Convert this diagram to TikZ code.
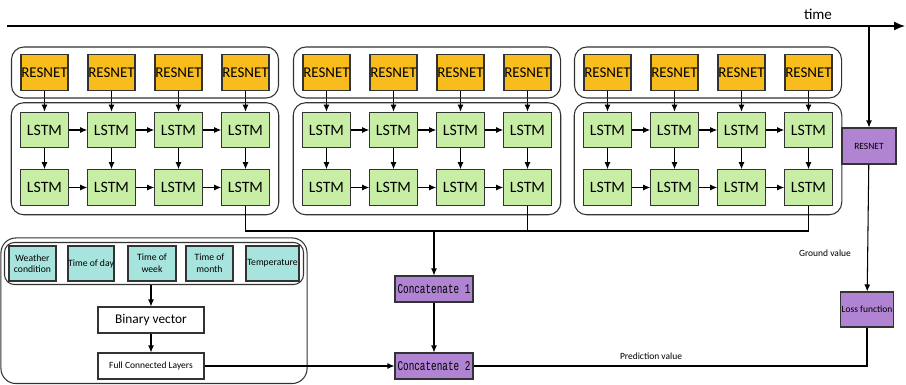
\documentclass[tikz,border=0pt]{standalone}
\usepackage{fontspec}
\setmainfont{Carlito}
\newfontfamily\catfont[FakeStretch=0.7]{Liberation Mono}
\usetikzlibrary{fit,arrows.meta}
\definecolor{resorange}{RGB}{248,188,28}
\definecolor{lstmgreen}{RGB}{200,238,165}
\definecolor{catpurple}{RGB}{176,132,210}
\definecolor{featcyan}{RGB}{168,228,222}
\tikzset{
  box/.style={draw=black!80, line width=0.6pt, inner sep=0pt, align=center},
  resbox/.style={box, fill=resorange, minimum width=0.94cm, minimum height=0.72cm, font=\fontsize{8.5}{9}\selectfont},
  lstmbox/.style={box, fill=lstmgreen, minimum width=0.95cm, minimum height=0.71cm, font=\fontsize{9}{9}\selectfont},
  featbox/.style={box, fill=featcyan, minimum height=0.7cm, font=\fontsize{5.5}{6.6}\selectfont},
  purplebox/.style={box, fill=catpurple, minimum height=0.7cm, font=\fontsize{5.4}{6}\selectfont},
  catbox/.style={box, fill=catpurple, minimum width=1.56cm, minimum height=0.52cm, font=\catfont\fontsize{7.6}{8}\selectfont},
  plainbox/.style={box, fill=white, minimum width=2.12cm, minimum height=0.52cm},
  group/.style={draw=black!80, line width=0.6pt, rounded corners=0.25cm, inner sep=0.18cm},
  flow/.style={-{Latex[length=1.4mm,width=1.2mm]}, line width=0.6pt},
  line/.style={line width=0.6pt},
  note/.style={font=\fontsize{5.4}{6}\selectfont}
}
\begin{document}
\begin{tikzpicture}[x=0.02cm, y=-0.02cm]
\useasboundingbox (0,0) rectangle (906,385);

% time axis
\coordinate (t0) at (7,26);
\coordinate (t1) at (905,26);
\draw[line width=0.8pt, -{Latex[length=2.2mm,width=1.8mm]}] (t0) -- (t1);
\node[font=\fontsize{8.6}{9}\selectfont] (time) at (818,14) {time};

% three resnet/lstm blocks
\foreach \g/\s in {1/0, 2/282, 3/563} {
  \foreach \i/\x in {1/44.5, 2/111.5, 3/178.5, 4/245.5} {
    \node[resbox] (rn\g\i) at ({\x+\s},72.5) {RESNET};
    \node[lstmbox] (la\g\i) at ({\x+\s},130) {LSTM};
    \node[lstmbox] (lb\g\i) at ({\x+\s},187.5) {LSTM};
    \draw[flow] (rn\g\i) -- (la\g\i);
    \draw[flow] (la\g\i) -- (lb\g\i);
  }
  \foreach \i/\j in {1/2, 2/3, 3/4} {
    \draw[flow] (la\g\i) -- (la\g\j);
    \draw[flow] (lb\g\i) -- (lb\g\j);
  }
  \node[group, inner ysep=0.14cm, fit=(rn\g1)(rn\g4)] (rg\g) {};
  \node[group, fit=(la\g1)(lb\g4)] (lg\g) {};
}

% outputs of the blocks
\coordinate (bus) at (0,231);
\node[catbox] (cat1) at (434,289) {Concatenate 1};
\node[catbox] (cat2) at (434,366) {Concatenate 2};
\draw[line] (lb14.south) |- (lb34.south |- bus) -- (lb34.south);
\draw[line] (lb24.south) -- (lb24.south |- bus);
\draw[flow] (cat1.north |- bus) -- (cat1.north);
\draw[flow] (cat1) -- (cat2);

% ground truth branch
\node[purplebox, minimum width=1.08cm, minimum height=0.72cm] (res) at (869,146) {RESNET};
\node[purplebox, minimum width=1.06cm] (loss) at (867,309.5) {Loss function};
\draw[flow] (res.north |- t0) -- (res.north);
\draw[flow] (res) -- (loss);
\node[note] (ground) at (825,253) {Ground value};
\draw[line] (cat2.east) -| (loss.south);
\node[note] (pred) at (651,356) {Prediction value};

% external features
\node[featbox, minimum width=0.94cm] (weather) at (32.5,263.5) {Weather\\condition};
\node[featbox, minimum width=0.92cm] (tday) at (91,263.5) {Time of day};
\node[featbox, minimum width=0.96cm] (tweek) at (152,263.5) {Time of\\week};
\node[featbox, minimum width=0.94cm] (tmonth) at (209.5,263.5) {Time of\\month};
\node[featbox, minimum width=1.06cm] (temp) at (272.5,263.5) {Temperature};
\node[group, rounded corners=0.2cm, inner xsep=0.08cm, inner ysep=0.06cm, fit=(weather)(temp)] (feat) {};
\node[plainbox, font=\fontsize{7.6}{8}\selectfont] (binary) at (151,320) {Binary vector};
\node[plainbox, font=\fontsize{5.4}{6}\selectfont] (fcl) at (151,366) {Full Connected Layers};
\node[group, rounded corners=0.3cm, inner xsep=0.06cm, inner ysep=0.08cm, fit=(feat)(fcl)] (extra) {};
\draw[flow] (feat.south -| binary.north) -- (binary.north);
\draw[flow] (binary) -- (fcl);
\draw[flow] (fcl) -- (cat2);
\end{tikzpicture}
\end{document}
